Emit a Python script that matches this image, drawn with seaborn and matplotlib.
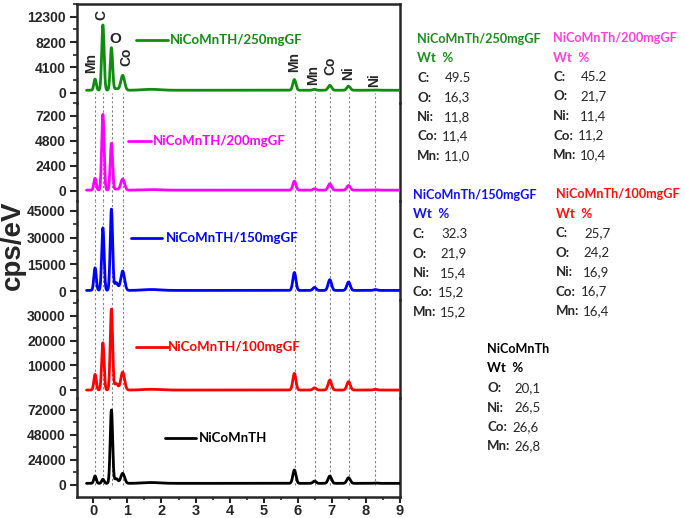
import numpy as np
import pandas as pd
import matplotlib
matplotlib.use("Agg")
import matplotlib.pyplot as plt
import seaborn as sns
from matplotlib.ticker import MultipleLocator, AutoMinorLocator, FixedLocator

sns.set_style("ticks")
plt.rcParams["font.family"] = ["Liberation Sans", "DejaVu Sans"]

##############################################################################
# Data
##############################################################################

# spectra, top to bottom
samples = ["NiCoMnTH/250mgGF", "NiCoMnTH/200mgGF", "NiCoMnTH/150mgGF",
           "NiCoMnTH/100mgGF", "NiCoMnTH"]
line_colors = ["#108c10", "#ff00ff", "#0000ff", "#ff0000", "#000000"]

# EDS peaks (keV) and their widths
peak_energy = [0.05, 0.28, 0.53, 0.67, 0.86, 1.70, 5.90, 6.49, 6.94, 7.49, 8.28]
peak_sigma = [0.035, 0.035, 0.035, 0.05, 0.055, 0.25, 0.045, 0.045, 0.05, 0.05, 0.05]

# peak heights above background (cps/eV)
h_250 = [1820, 10570, 6890, 250, 2420, 150, 1730, 150, 800, 650, 40]
h_200 = [1140, 7280, 4500, 100, 1070, 60, 870, 130, 610, 450, 30]
h_150 = [12600, 34900, 45300, 4300, 10800, 500, 10000, 1700, 6000, 4700, 500]
h_100 = [6300, 19000, 32500, 2600, 7200, 300, 6700, 900, 4000, 3400, 300]
h_0 = [7100, 3900, 70400, 4500, 9600, 800, 12800, 2200, 7000, 5400, 300]
heights = [h_250, h_200, h_150, h_100, h_0]
background = [400, 50, 500, 100, 1300]

# y axes of each panel
yticks_list = [
    [0, 4100, 8200, 12300],
    [0, 2400, 4800, 7200],
    [0, 15000, 30000, 45000],
    [0, 10000, 20000, 30000],
    [0, 24000, 48000, 72000],
]
ylims = [(-1600, 14360), (-1010, 8460), (-4730, 50280), (-3260, 36390), (-11800, 82850)]

# reference lines (keV)
ref_lines = [0.06, 0.29, 0.55, 0.88, 5.92, 6.50, 6.95, 7.50, 8.28]

# element labels in top panel
peak_labels = ["Mn", "C", "O", "Co", "Mn", "Mn", "Co", "Ni", "Ni"]
peak_label_x = [-0.07, 0.23, 0.65, 0.96, 5.90, 6.46, 6.96, 7.47, 8.24]
peak_label_y = [4810, 12590, 8650, 5830, 5050, 2870, 4330, 3190, 2060]

# sample label (line + text) positions in each panel
label_line_x = [(1.25, 2.18), (1.02, 1.70), (1.11, 2.02), (1.25, 2.18), (2.09, 3.02)]
label_text_x = [2.26, 1.76, 2.14, 2.18, 3.11]
label_y = [8540, 4770, 29800, 17500, 44500]

# wt % tables
table_titles = ["NiCoMnTh/250mgGF", "NiCoMnTh/200mgGF", "NiCoMnTh/150mgGF",
                "NiCoMnTh/100mgGF", "NiCoMnTh"]
table_colors = ["#1a8c1a", "#ff40d9", "#1010ff", "#ff1010", "#000000"]
table_elements = [["C", "O", "Ni", "Co", "Mn"]] * 4 + [["O", "Ni", "Co", "Mn"]]
wt_250 = ["49.5", "16,3", "11,8", "11,4", "11,0"]
wt_200 = ["45.2", "21,7", "11,4", "11,2", "10,4"]
wt_150 = ["32.3", "21,9", "15,4", "15,2", "15,2"]
wt_100 = ["25,7", "24,2", "16,9", "16,7", "16,4"]
wt_0 = ["20,1", "26,5", "26,6", "26,8"]
table_values = [wt_250, wt_200, wt_150, wt_100, wt_0]
table_pos = [(417, 39), (553, 38), (413, 195), (556, 194), (487, 349)]

##############################################################################
# Figure
##############################################################################

W, H = 685, 518
fig = plt.figure(figsize=(W / 100, H / 100), dpi=100)

left, right = 77 / W, 400 / W
top_px, bot_px = 4, 497
panel_h = (bot_px - top_px) / 5
text_font = ["Lato", "DejaVu Sans"]

energy = np.arange(-0.2, 9.0001, 0.004)
axes = []
for i, name in enumerate(samples):
    y0 = bot_px - (4 - i) * panel_h
    ax = fig.add_axes([left, 1 - y0 / H, right - left, panel_h / H])
    axes.append(ax)

    counts = np.full_like(energy, background[i], dtype=float)
    for e, s, h in zip(peak_energy, peak_sigma, heights[i]):
        counts += h * np.exp(-((energy - e) ** 2) / (2 * s ** 2))
    df = pd.DataFrame({"energy": energy, "counts": counts})

    ymin, ymax = ylims[i]
    # dotted guide lines
    if i == 0:
        lo, hi = ymin, 0
    elif i == 4:
        lo, hi = 0, ymax
    else:
        lo, hi = ymin, ymax
    ax.vlines(ref_lines, lo, hi, color="gray", lw=0.8, ls=(0, (2, 2)), zorder=1)

    sns.lineplot(data=df, x="energy", y="counts", color=line_colors[i],
                 lw=2, ax=ax, zorder=3)

    # sample label
    ax.plot(label_line_x[i], [label_y[i]] * 2, color=line_colors[i], lw=2)
    ax.text(label_text_x[i], label_y[i], name, color=line_colors[i],
            fontsize=9.5, fontweight="bold", va="center", ha="left",
            family=text_font)

    ax.set_xlim(-0.48, 9)
    ax.set_ylim(ymin, ymax)
    ax.set_xlabel("")
    ax.set_ylabel("")
    ax.yaxis.set_major_locator(FixedLocator(yticks_list[i]))
    ax.yaxis.set_minor_locator(AutoMinorLocator(2))
    ax.set_yticklabels([str(v) for v in yticks_list[i]])
    ax.xaxis.set_major_locator(MultipleLocator(1))
    ax.xaxis.set_minor_locator(MultipleLocator(0.5))

    for side in ["left", "right", "top", "bottom"]:
        ax.spines[side].set_linewidth(1.8)
    ax.spines["top"].set_visible(i == 0)
    ax.spines["bottom"].set_visible(i == 4)
    ax.patch.set_alpha(0)

    ax.tick_params(axis="y", which="major", direction="out", length=5, width=1.5,
                   labelsize=10, pad=3)
    ax.tick_params(axis="y", which="minor", direction="out", length=3, width=1.2)
    ax.tick_params(axis="x", which="both", direction="out", bottom=(i == 4),
                   labelbottom=(i == 4), top=False, labelsize=10.5, pad=1)
    ax.tick_params(axis="x", which="major", length=4, width=1.5)
    ax.tick_params(axis="x", which="minor", length=2.5, width=1.2)
    for lab in ax.get_yticklabels() + ax.get_xticklabels():
        lab.set_fontweight("bold")

# element labels on top spectrum
for lab, x, y in zip(peak_labels, peak_label_x, peak_label_y):
    axes[0].text(x, y, lab, rotation=0 if lab == "O" else 90,
                 fontsize=11 if lab == "O" else 10, fontweight="bold",
                 ha="center", va="center", zorder=4)

fig.text(13 / W, 1 - 245 / H, "cps/eV", rotation=90, fontsize=20,
         fontweight="bold", ha="center", va="center")

# wt % tables
row_dy = 19.5
val_off = {"C": 28, "O": 27, "Ni": 27, "Co": 25, "Mn": 27}
for title, col, els, vals, (x0, y0) in zip(table_titles, table_colors, table_elements,
                                           table_values, table_pos):
    fig.text(x0 / W, 1 - y0 / H, title, color=col, fontsize=9.1, fontweight="bold",
             va="center", family=text_font)
    fig.text(x0 / W, 1 - (y0 + row_dy) / H, "Wt  %", color=col, fontsize=9.5,
             fontweight="bold", va="center", family=text_font)
    for k, (el, v) in enumerate(zip(els, vals)):
        y = y0 + (k + 2) * row_dy
        fig.text(x0 / W, 1 - y / H, f"{el}:", fontsize=9.5, fontweight="bold",
                 va="center", family=text_font)
        fig.text((x0 + val_off[el]) / W, 1 - y / H, v, fontsize=9.5,
                 va="center", family=text_font)

fig.savefig("out.png", dpi=100)
